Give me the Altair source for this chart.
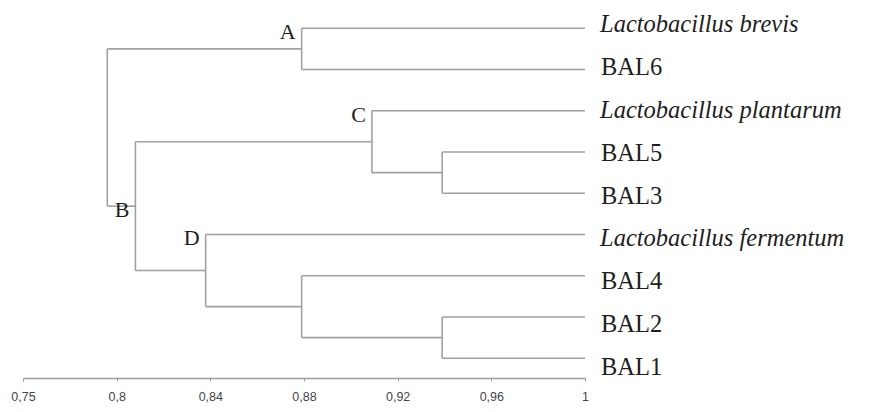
import json
import altair as alt
import pandas as pd

# ---------------- data ----------------
leaves = ["Lactobacillus brevis", "BAL6", "Lactobacillus plantarum", "BAL5", "BAL3",
          "Lactobacillus fermentum", "BAL4", "BAL2", "BAL1"]
leaf_italic = [True, False, True, False, False, True, False, False, False]
leaf_similarity = 1.0

# merges (bottom-up): node name, left child, right child, similarity level
node_names = ["G", "E", "F", "A", "C", "D", "B", "R"]
node_left = ["BAL2", "BAL5", "BAL4", "Lactobacillus brevis", "Lactobacillus plantarum",
             "Lactobacillus fermentum", "C", "A"]
node_right = ["BAL1", "BAL3", "G", "BAL6", "E", "F", "D", "B"]
node_similarity = [0.939, 0.939, 0.879, 0.879, 0.909, 0.838, 0.808, 0.796]
labelled_nodes = ["A", "B", "C", "D"]

tick_values = [0.76, 0.80, 0.84, 0.88, 0.92, 0.96, 1.00]
tick_labels = ["0,75", "0,8", "0,84", "0,88", "0,92", "0,96", "1"]

# ---------------- dendrogram layout ----------------
pos = {name: (leaf_similarity, i) for i, name in enumerate(leaves)}
segs = []
nodes = []
for name, l, r, s in zip(node_names, node_left, node_right, node_similarity):
    xl, yl = pos[l]
    xr, yr = pos[r]
    ym = (yl + yr) / 2
    pos[name] = (s, ym)
    segs.append(dict(x=s, x2=s, y=yl, y2=yr))
    segs.append(dict(x=s, x2=xl, y=yl, y2=yl))
    segs.append(dict(x=s, x2=xr, y=yr, y2=yr))
    if name in labelled_nodes:
        ylab = ym if name == "B" else min(yl, yr)
        nodes.append(dict(label=name, x=s, y=ylab))

seg_df = pd.DataFrame(segs)
node_df = pd.DataFrame(nodes)
leaf_df = pd.DataFrame(dict(name=leaves, idx=list(range(len(leaves))),
                            italic=leaf_italic, x=[leaf_similarity] * len(leaves)))

W, H = 562, 370
xscale = alt.Scale(domain=[0.76, 1.0], nice=False, zero=False)
yline = alt.Scale(domain=[-0.492, 8.48], reverse=True, nice=False, zero=False)
ylabel = alt.Scale(domain=[-0.397, 8.23], reverse=True, nice=False, zero=False)

label_expr = f"{json.dumps(tick_labels)}[indexof({json.dumps(tick_values)}, datum.value)]"

lines = alt.Chart(seg_df).mark_rule(color="#a0a0a0", strokeWidth=1.6).encode(
    x=alt.X("x:Q", scale=xscale, title=None,
            axis=alt.Axis(values=tick_values, labelExpr=label_expr, grid=False,
                          labelFlush=False,
                          domainColor="#9c9c9c", domainWidth=1.6, tickColor="#9c9c9c",
                          tickSize=3, labelPadding=9, labelFont="Liberation Sans",
                          labelFontSize=12.5, labelColor="#454545")),
    x2="x2:Q",
    y=alt.Y("y:Q", scale=yline, axis=None),
    y2="y2:Q",
)

node_text = alt.Chart(node_df).mark_text(
    align="right", baseline="middle", dx=-6, dy=4, font="Liberation Serif",
    fontSize=22, color="#1e1e1e"
).encode(
    x=alt.X("x:Q", scale=xscale),
    y=alt.Y("y:Q", scale=yline, axis=None),
    text="label:N",
)

leaf_base = alt.Chart(leaf_df)
leaf_italic_text = leaf_base.transform_filter("datum.italic").mark_text(
    align="left", baseline="middle", dx=15, font="Liberation Serif", fontStyle="italic",
    fontSize=24.5, color="#1e1e1e"
).encode(
    x=alt.X("x:Q", scale=xscale),
    y=alt.Y("idx:Q", scale=ylabel, axis=None),
    text="name:N",
)
leaf_plain_text = leaf_base.transform_filter("!datum.italic").mark_text(
    align="left", baseline="middle", dx=16, font="Liberation Serif",
    fontSize=24.5, color="#1e1e1e"
).encode(
    x=alt.X("x:Q", scale=xscale),
    y=alt.Y("idx:Q", scale=ylabel, axis=None),
    text="name:N",
)

lines_layer = alt.layer(lines, node_text)
chart = alt.layer(lines_layer, leaf_italic_text, leaf_plain_text).resolve_scale(
    y="independent"
).properties(
    width=W, height=H,
    autosize=alt.AutoSizeParams(type="none"),
    padding={"left": 15, "top": 0, "right": 279, "bottom": 30},
).configure_view(stroke=None)

chart.save("out.html", embed_options={"renderer": "svg", "actions": False})
